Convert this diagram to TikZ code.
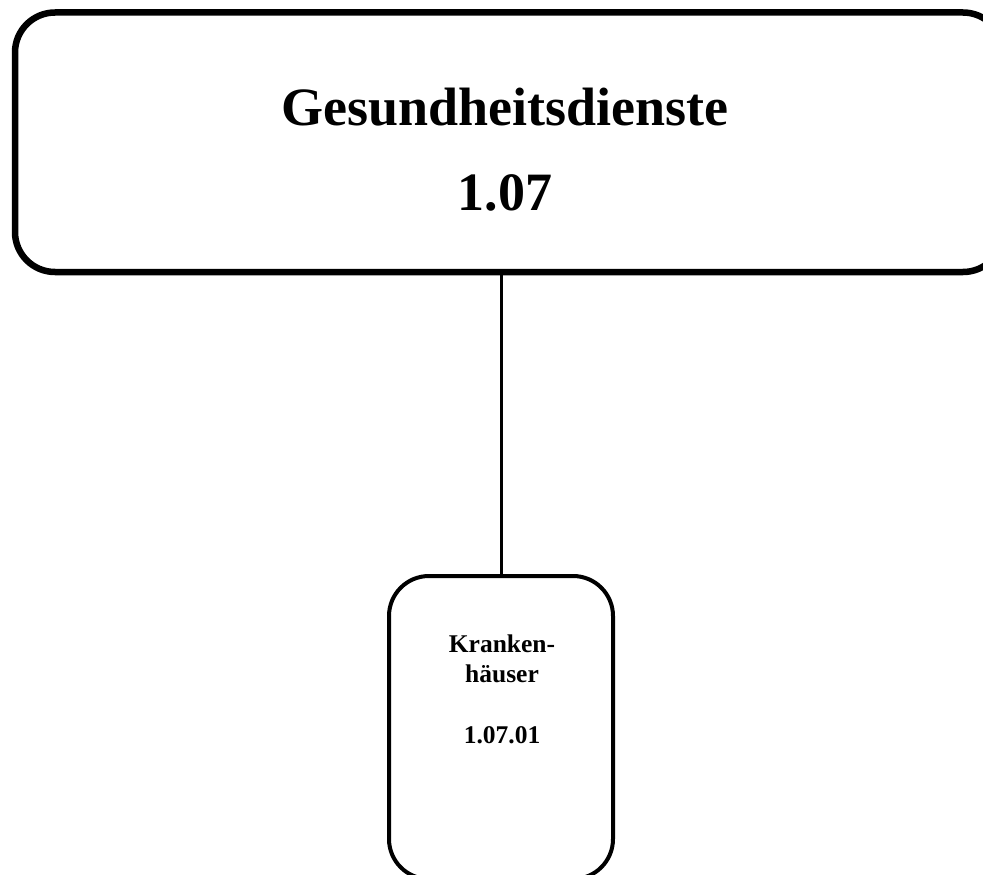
\documentclass[tikz,border=0pt]{standalone}
\usepackage{fontspec}
\setmainfont{Liberation Serif}
\begin{document}
\begin{tikzpicture}[x=1pt,y=1pt,
  bigbox/.style={draw, rectangle, rounded corners=40pt, line width=6.5pt, inner sep=0pt, outer sep=0pt, minimum width=988pt, minimum height=259.5pt},
  smallbox/.style={draw, rectangle, rounded corners=40pt, line width=4pt, inner sep=0pt, outer sep=0pt, minimum width=224pt, minimum height=303pt},
  bigtxt/.style={anchor=base, inner sep=0pt, font=\fontsize{54}{60}\selectfont\bfseries},
  smalltxt/.style={anchor=base, inner sep=0pt, font=\fontsize{25.5}{30}\selectfont\bfseries},
  conn/.style={line width=3pt}]
\useasboundingbox (0,0) rectangle (983,-875);
\node[bigbox] (top) at (509,-142.25) {};
\node[smallbox] (bot) at (501,-727.5) {};
\node[bigtxt] (t1) at (505,-125) {Gesundheitsdienste};
\node[bigtxt] (t2) at (505,-210) {1.07};
\node[smalltxt] (k1) at (502,-652) {Kranken-};
\node[smalltxt] (k2) at (502,-682) {häuser};
\node[smalltxt] (k3) at (502,-743) {1.07.01};
\draw[conn] (top.south -| bot.north) -- (bot.north);
\end{tikzpicture}
\end{document}
